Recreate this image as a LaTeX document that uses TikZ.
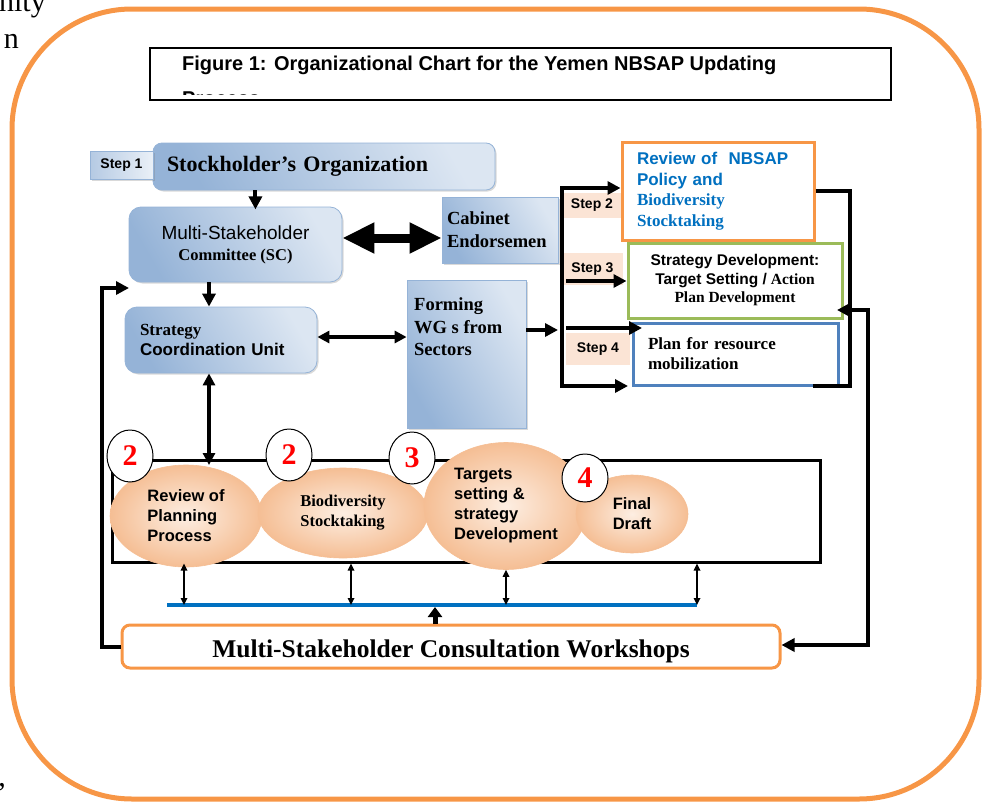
\documentclass[tikz,border=0pt]{standalone}
\usepackage{fontspec}
\setmainfont{Liberation Serif}
\setsansfont{Liberation Sans}
\usetikzlibrary{arrows.meta,shapes.geometric,shadows,calc}

\definecolor{frameorange}{HTML}{F79646}
\definecolor{bdark}{HTML}{95B3D7}
\definecolor{blight}{HTML}{DCE6F2}
\definecolor{peach}{HTML}{FBE4D5}
\definecolor{txtblue}{HTML}{0070C0}
\definecolor{lgreen}{HTML}{9BBB59}
\definecolor{sblue}{HTML}{4F81BD}
\definecolor{ellin}{HTML}{FDEEE2}
\definecolor{ellout}{HTML}{F5BE94}

\newcommand{\fsz}[2]{\fontsize{#1}{#2}\selectfont}
\newcommand{\arb}{\sffamily\bfseries}
\newcommand{\tmb}{\rmfamily\bfseries}

\begin{document}
\begin{tikzpicture}[x=1pt,y=-1pt,
  frame/.style={draw=frameorange, line width=5pt, rounded corners=120pt},
  bluebox/.style={draw=bdark, line width=0.8pt, left color=bdark, right color=blight,
    shading angle=120, inner sep=0pt,
    drop shadow={shadow xshift=1.5pt, shadow yshift=-1.5pt, opacity=0.3}},
  steplabel/.style={fill=peach, inner sep=0pt, font=\arb\fsz{14}{16}},
  outlinebox/.style={draw=#1, line width=3pt, fill=white, inner sep=0pt},
  ell/.style={ellipse, draw=ellout, line width=0.6pt, inner color=ellin, outer color=ellout,
    inner sep=0pt, align=left, font=\fsz{16.5}{20}},
  numc/.style={ellipse, draw=black, line width=1pt, fill=white, minimum width=46pt,
    minimum height=52pt, inner sep=0pt, text=red, font=\tmb\fsz{30}{30}},
  arr/.style={line width=4pt, -{Triangle[length=13pt,width=13pt]}},
  dbl/.style={line width=4pt, {Triangle[length=12pt,width=12pt]}-{Triangle[length=12pt,width=12pt]}},
  bigdbl/.style={line width=9pt, {Triangle[length=32pt,width=29pt]}-{Triangle[length=32pt,width=29pt]}},
  thindbl/.style={line width=1.6pt, {Triangle[length=7pt,width=6.5pt]}-{Triangle[length=7pt,width=6.5pt]}},
  pagetext/.style={font=\rmfamily\fsz{30}{36}, inner sep=0pt}
]
\useasboundingbox (0,0) rectangle (986,803);

% fragments of the surrounding page text
\node[pagetext, anchor=base east] (pagetxta) at (46,12) {nity};
\node[pagetext, anchor=base east] (pagetxtb) at (19,48) {n};
\node[pagetext, anchor=base east] (pagetxtc) at (6,786) {,};

% outer frame
\draw[frame] (12,9) rectangle (979,799);

% title box
\node[draw, line width=1.2pt, minimum width=741pt, minimum height=52pt, inner sep=0pt] (title) at (520.5,74) {};
\node[anchor=base west, inner sep=0pt, font=\arb\fsz{20}{22}] (titlel1) at (182,70.5)
  {Figure 1: Organizational Chart for the Yemen NBSAP Updating};
\begin{scope}
  \clip (150,48) rectangle (889,94);
  \node[anchor=base west, inner sep=0pt, font=\arb\fsz{20}{22}] (titlel2) at (182,105.5) {Process};
\end{scope}

% left column of organisation boxes
\node[bluebox, rounded corners=9pt, minimum width=342pt, minimum height=47pt,
  text width=314pt, inner xsep=14pt, align=left, font=\tmb\fsz{22}{24}] (stock) at (324,166.5)
  {Stockholder’s Organization};
\node[bluebox, left color=bdark!70, right color=blight!60, minimum width=63pt, minimum height=28pt,
  font=\arb\fsz{14}{16}] (step1) at (121.5,165) {Step 1};

\node[bluebox, rounded corners=12pt, minimum width=213pt, minimum height=75pt, align=center,
  font=\fsz{19}{21}] (sc) at (235.5,244.5)
  {{\sffamily Multi-Stakeholder}\\{\tmb\fsz{16.5}{21}Committee (SC)}};

\node[bluebox, minimum width=116pt, minimum height=66pt, text width=106pt, inner xsep=5pt,
  align=left, font=\tmb\fsz{18.5}{23}] (cab) at (500,230) {Cabinet\\Endorsemen};

\node[bluebox, rounded corners=12pt, minimum width=192pt, minimum height=66pt, text width=162pt,
  inner xsep=15pt, align=left, font=\fsz{17}{20}] (scu) at (221,340)
  {{\tmb Strategy}\\{\arb Coordination Unit}};

\node[bluebox, minimum width=119pt, minimum height=148pt] (forming) at (466.5,354) {};
\node[anchor=north west, inner sep=0pt, align=left, font=\tmb\fsz{18.5}{22.5}] (formingtxt) at (414,297.5)
  {Forming\\WG s from\\Sectors};

% step labels
\node[steplabel, minimum width=60pt, minimum height=25pt] (step2) at (592,205.5) {Step 2};
\node[steplabel, minimum width=61pt, minimum height=32pt] (step3) at (592.5,269) {Step 3};
\node[steplabel, minimum width=64pt, minimum height=32pt] (step4) at (598,349) {Step 4};

% right column of outcome boxes
\node[outlinebox=frameorange, minimum width=192pt, minimum height=98pt, text width=162pt,
  inner xsep=15pt, align=left, text=txtblue, font=\fsz{17}{20.5}] (review) at (718,191)
  {{\arb Review of\ \ NBSAP}\\{\arb Policy and}\\{\tmb Biodiversity}\\{\tmb Stocktaking}};
\node[outlinebox=lgreen, minimum width=214pt, minimum height=75pt, align=center,
  font=\fsz{15.5}{18.5}] (strat) at (735,280.5)
  {{\arb Strategy Development:}\\{\arb Target Setting /} {\tmb Action}\\{\tmb Plan Development}};
\node[outlinebox=sblue, minimum width=205pt, minimum height=62pt, text width=175pt,
  inner xsep=15pt, align=left, font=\tmb\fsz{17}{20}] (plan) at (735.5,354)
  {Plan for resource\\mobilization};

% process stages
\node[draw, line width=3pt, minimum width=708pt, minimum height=102pt, inner sep=0pt] (stages) at (466,511) {};
\node[ell, minimum width=152pt, minimum height=102pt, font=\arb\fsz{16.5}{20}] (e1) at (186,516)
  {Review of\\Planning\\Process};
\node[ell, minimum width=170pt, minimum height=90pt, font=\tmb\fsz{16.5}{20}] (e2) at (343,513)
  {Biodiversity\\Stocktaking};
\node[ell, minimum width=164pt, minimum height=127pt, font=\arb\fsz{16.5}{20}] (e3) at (506,506)
  {Targets\\setting \&\\strategy\\Development};
\node[ell, minimum width=112pt, minimum height=78pt, font=\arb\fsz{16.5}{20}] (e4) at (632,514)
  {Final\\Draft};

\node[numc] (c1) at (130,456) {2};
\node[numc] (c2) at (289,455) {2};
\node[numc] (c3) at (412,458) {3};
\node[numc, minimum height=48pt] (c4) at (585,478) {4};

% consultation workshops
\node[draw=frameorange, line width=3pt, rounded corners=8pt, fill=white, minimum width=658pt,
  minimum height=43pt, inner sep=0pt, font=\tmb\fsz{25.5}{27}] (ws) at (451,646.5)
  {\raisebox{-10.5pt}[0pt][0pt]{Multi-Stakeholder Consultation Workshops}};

% helper coordinates
\coordinate (bl1) at (167,605);
\coordinate (bl2) at (697,605);
\coordinate (bt) at (562,188);
\coordinate (bb) at (562,386);
\coordinate (rc) at (868,310);
\coordinate (lc) at (102,288);

% blue collector line
\draw[txtblue, line width=4pt] (bl1) -- (bl2);

% connectors in the upper part
\draw[arr] ($(stock.south west)!0.3!(stock.south east)$) -- ++(0,19);
\draw[bigdbl] (sc.east |- 0,238) -- (cab.west |- 0,238);
\draw[arr] (sc.south -| 209,0) -- (scu.north -| 209,0);
\draw[dbl] (scu.east |- 0,337) -- (forming.west |- 0,337);
\draw[dbl] (scu.south -| 209,0) -- (209,465);
\draw[arr] (forming.east |- 0,330) -- (558,330);

% step bracket
\draw[line width=4pt] (bt) -- (bb);
\draw[arr] ($(bt)+(-2,0)$) -- (review.west |- bt);
\draw[arr] (566,281) -- (strat.west |- 0,281);
\draw[arr] (566,328) -- (642,328);
\draw[arr] ($(bb)+(-2,0)$) -- (628,386);

% right bracket joining the outcome boxes
\draw[line width=4pt, line join=miter] (review.east |- 0,191) -- (850,191) -- (850,386) -- (813,386);

% feedback loops
\draw[line width=4pt, {Triangle[length=13pt,width=13pt]}-{Triangle[length=13pt,width=13pt]}]
  (837,310) -- (rc) -- (rc |- 0,645) -- (ws.east |- 0,645);
\draw[arr] (ws.west |- 0,647) -- (lc |- 0,647) -- (lc) -- (129,288);

% links between the stages and the collector line
\draw[thindbl] (stages.south -| 184,0) -- (bl1 -| 184,0);
\draw[thindbl] (stages.south -| 351,0) -- (bl1 -| 351,0);
\draw[thindbl] (e3.south) -- (bl1 -| e3.south);
\draw[thindbl] (stages.south -| bl2) -- (bl2);
\draw[line width=5pt, -{Triangle[length=10pt,width=14pt]}] (ws.north -| 435,0) -- (435,607);
\end{tikzpicture}
\end{document}
